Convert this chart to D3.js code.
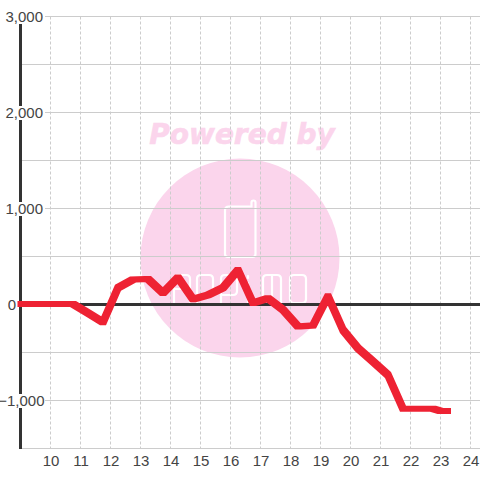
<!DOCTYPE html>
<html><head><meta charset="utf-8">
<script src="https://cdn.jsdelivr.net/npm/d3@7/dist/d3.min.js"></script>
<style>html,body{margin:0;padding:0;background:#fff}svg{display:block}text{font-family:"Liberation Sans",Arial,sans-serif}</style>
</head><body><svg id="c" width="480" height="480"></svg>
<script>
const hours=[9,10.75,11.25,11.75,12.25,12.75,13.25,13.75,14.25,14.75,15.25,15.75,16.25,16.75,17.25,17.75,18.25,18.75,19.25,19.75,20.25,20.75,21.25,21.75,22.25,22.75,23,23.25];
const values=[0,0,-95,-190,170,255,260,115,275,50,95,170,355,10,60,-60,-235,-225,80,-270,-460,-600,-740,-1090,-1090,-1090,-1115,-1115];
const xTicks=[10,11,12,13,14,15,16,17,18,19,20,21,22,23,24];
const yLabelTicks=[3000,2000,1000,0,-1000];
const yGridTicks=[3000,2500,2000,1500,1000,500,-500,-1000,-1500];
const majorTicks=[3000,2000,1000,-1000];

const svg=d3.select("#c");
const x=d3.scaleLinear().domain([9,24.3167]).range([20.5,480]);
const y=d3.scaleLinear().domain([3000,-1500]).range([16.5,448.5]);

// watermark
const wm=svg.append("g");
wm.append("circle").attr("cx",240).attr("cy",258).attr("r",99.5).attr("fill","#fbd5ec");
wm.append("text").attr("x",242).attr("y",144).attr("text-anchor","middle")
  .attr("font-size",28).attr("font-weight","bold").attr("font-style","italic")
  .style("font-family","'DejaVu Sans'").attr("fill","#fbd5ec").attr("stroke","#fbd5ec").attr("stroke-width",0.6).text("Powered by");
const logo=[
 "M229 206.5H251.5V202.5Q251.5 200.5 253.5 200.5Q255.5 200.5 255.5 202.5V254Q255.5 257 252.5 257H228Q225 257 225 254V210.5Q225 206.5 229 206.5Z",
 "M174 289H190M174 303V279Q174 275 178 275H186Q190 275 190 279V303",
 "M197 303V279Q197 275 201 275H209Q213 275 213 279V291Q213 295 209 295H197",
 "M221 303V279Q221 275 225 275H233Q237 275 237 279V291Q237 295 233 295H221",
 "M248 283V303M248 276V278",
 "M263 303V279Q263 275 267 275H277Q281 275 281 279V303M272 275V303",
 "M290 279Q290 275 294 275H302Q306 275 306 279V299Q306 303 302 303H294Q290 303 290 299Z"
];
wm.append("path").attr("fill","none").attr("stroke","#fff").attr("stroke-width",2.2).attr("stroke-linecap","round")
  .attr("d",logo.join(""));

// grid
svg.append("g").selectAll("line").data(xTicks).join("line")
  .attr("x1",d=>Math.round(x(d)-.5)+.5).attr("x2",d=>Math.round(x(d)-.5)+.5)
  .attr("y1",y(3000)).attr("y2",y(-1500))
  .attr("stroke","#ccc").attr("stroke-dasharray","3,2");
svg.append("g").selectAll("line").data(yGridTicks).join("line")
  .attr("x1",d=>majorTicks.includes(d)?45:20).attr("x2",480)
  .attr("y1",d=>y(d)).attr("y2",d=>y(d))
  .attr("stroke","#ccc").attr("stroke-width",1);

// axes lines
svg.append("line").attr("x1",20.5).attr("x2",20.5).attr("y1",16).attr("y2",449)
  .attr("stroke","#333").attr("stroke-width",3);
svg.append("line").attr("x1",20).attr("x2",480).attr("y1",y(0)).attr("y2",y(0))
  .attr("stroke","#333").attr("stroke-width",3);

// y labels
const yl=svg.append("g").selectAll("g").data(yLabelTicks).join("g");
yl.filter(d=>d!==0).append("rect").attr("x",d=>d<0?2:6).attr("width",d=>d<0?42:38)
  .attr("y",d=>y(d)-6.5).attr("height",14).attr("fill","#fff");
yl.append("text").attr("x",d=>d===0?16:d<0?44.5:43).attr("y",d=>y(d)+5.5)
  .attr("text-anchor","end").attr("font-size",15).attr("fill","#444")
  .text(d=>d3.format(",")(d));

// x labels
svg.append("g").selectAll("text").data(xTicks).join("text")
  .attr("x",d=>x(d)+.5).attr("y",466).attr("text-anchor","middle")
  .attr("font-size",15).attr("fill","#444").text(d=>d);

// series: swept by a square pen, as the reference line is
const pts=hours.map((h,i)=>[x(h),y(values[i])-.5]);
const pen=3;
const corners=p=>[[-1,-1],[1,-1],[1,1],[-1,1]].map(o=>[p[0]+o[0]*pen,p[1]+o[1]*pen]);
const segs=d3.pairs(pts).map(([a,b])=>"M"+d3.polygonHull([...corners(a),...corners(b)]).join("L")+"Z");
svg.append("path").attr("d",segs.join("")).attr("fill","#ee2233").attr("fill-rule","nonzero");
</script></body></html>
